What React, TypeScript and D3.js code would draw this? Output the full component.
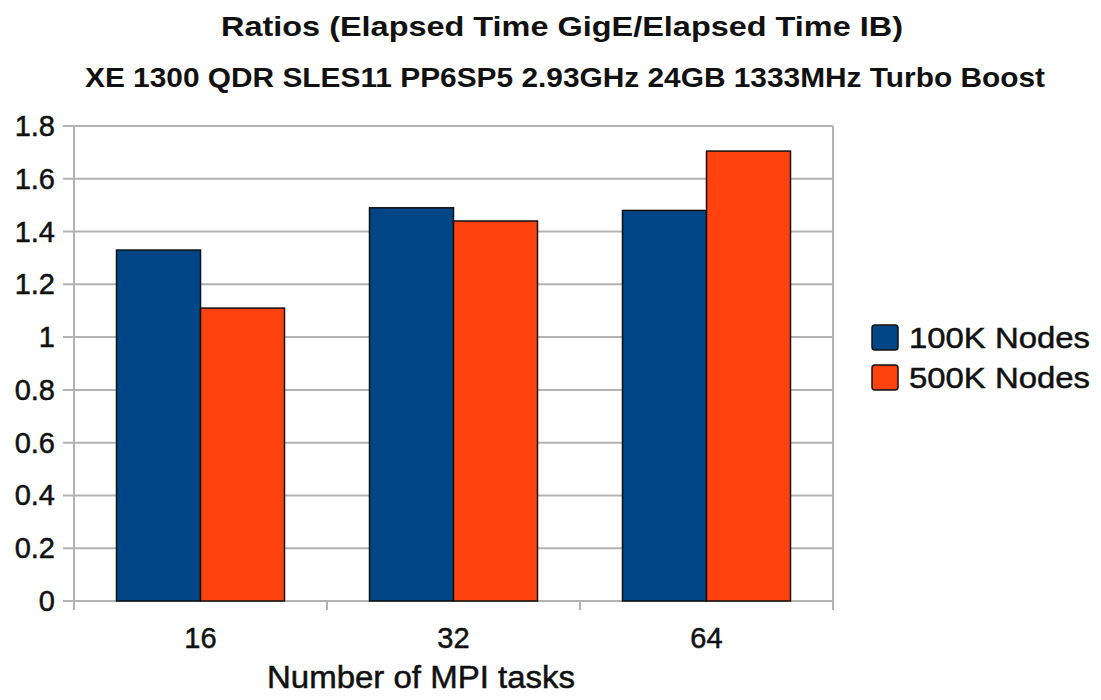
import React from "react";
import * as d3 from "d3";

const categories = ["16", "32", "64"];
const seriesNames = ["100K Nodes", "500K Nodes"];
const values100K = [1.33, 1.49, 1.48];
const values500K = [1.11, 1.44, 1.705];
const yTicks = [0, 0.2, 0.4, 0.6, 0.8, 1, 1.2, 1.4, 1.6, 1.8];
const colors = ["#004586", "#ff420e"];

const W = 1101, H = 700;
const L = 74, R = 833, T = 126, B = 601;
const FONT = "'Liberation Sans', Arial, sans-serif";

export default function App() {
  const x = d3.scaleBand().domain(categories).range([L, R]).paddingInner(0).paddingOuter(0);
  const y = d3.scaleLinear().domain([0, 1.8]).range([B, T]);
  const groupW = 168;
  const x1 = d3.scaleBand().domain(seriesNames).range([0, groupW]);
  const series = [values100K, values500K];
  const grid = "#b3b3b3";
  const ts = { fill: "#111", stroke: "#111", strokeWidth: 0.5 };
  return (
    <svg width={W} height={H} style={{ position: "absolute", left: 0, top: 0, background: "#fff" }} fontFamily={FONT}>
      <rect x={0} y={0} width={W} height={H} fill="#fff" />
      <text x={221} y={36} fontSize={28} fontWeight="bold" fill="#111" textLength={682} lengthAdjust="spacingAndGlyphs">Ratios (Elapsed Time GigE/Elapsed Time IB)</text>
      <text x={85} y={87} fontSize={27} fontWeight="bold" fill="#111" textLength={960} lengthAdjust="spacingAndGlyphs">XE 1300 QDR SLES11 PP6SP5 2.93GHz 24GB 1333MHz Turbo Boost</text>
      {yTicks.map((t) => (
        <g key={t}>
          <line x1={63} x2={R} y1={y(t)} y2={y(t)} stroke={grid} strokeWidth={2} />
          <text x={55} y={y(t) + 10} textAnchor="end" fontSize={29} {...ts}>{String(t)}</text>
        </g>
      ))}
      <line x1={L} x2={L} y1={T} y2={610} stroke={grid} strokeWidth={2} />
      <line x1={R} x2={R} y1={T} y2={610} stroke={grid} strokeWidth={2} />
      {categories.slice(1).map((c) => (
        <line key={c} x1={x(c)!} x2={x(c)!} y1={B} y2={610} stroke={grid} strokeWidth={2} />
      ))}
      {categories.map((c, i) => (
        <g key={c}>
          {series.map((s, j) => {
            const bx = x(c)! + (x.bandwidth() - groupW) / 2 + x1(seriesNames[j])!;
            return (
              <rect key={j} x={bx} y={y(s[i])} width={x1.bandwidth()} height={B - y(s[i])}
                fill={colors[j]} stroke="#111" strokeWidth={1.5} />
            );
          })}
          <text x={x(c)! + x.bandwidth() / 2} y={648} textAnchor="middle" fontSize={29} {...ts}>{c}</text>
        </g>
      ))}
      <text x={267} y={688} fontSize={31} {...ts} textLength={308} lengthAdjust="spacingAndGlyphs">Number of MPI tasks</text>
      {seriesNames.map((n, j) => (
        <g key={n}>
          <rect x={872} y={325 + j * 40} width={26} height={25} rx={3} fill={colors[j]} stroke="#111" strokeWidth={1.5} />
          <text x={909} y={348 + j * 40} fontSize={30} {...ts} textLength={181} lengthAdjust="spacingAndGlyphs">{n}</text>
        </g>
      ))}
    </svg>
  );
}
